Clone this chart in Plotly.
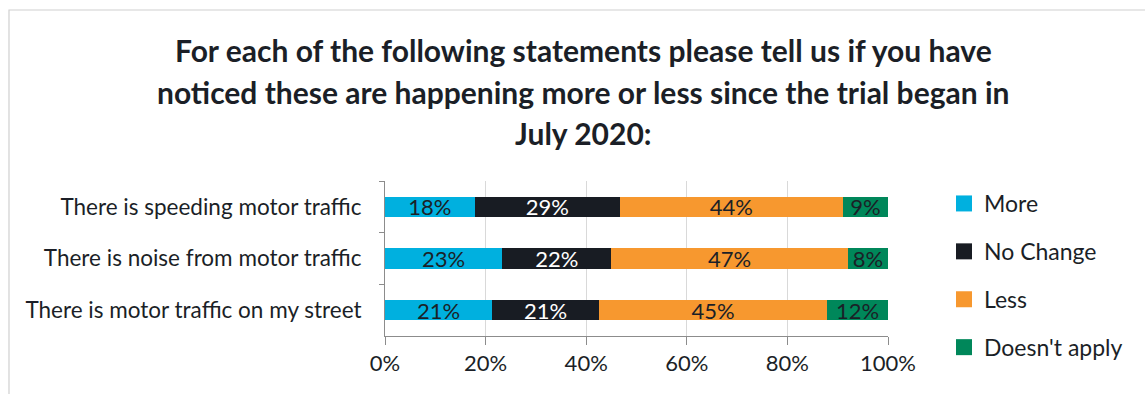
import plotly.graph_objects as go

# Survey statements (top to bottom) and response shares in percent
statements = [
    "There is speeding motor traffic",
    "There is noise from motor traffic",
    "There is motor traffic on my street",
]
more = [17.8, 23.3, 21.3]
no_change = [28.9, 21.7, 21.2]
less = [44.3, 47.0, 45.4]
doesnt_apply = [9.0, 8.0, 12.1]

series_names = ["More", "No Change", "Less", "Doesn't apply"]
series_values = [more, no_change, less, doesnt_apply]
series_colors = ["#00B0DF", "#181C23", "#F7982F", "#00875A"]
label_colors = ["#1b1f27", "#ffffff", "#1b1f27", "#1b1f27"]

x_ticks = [0, 20, 40, 60, 80, 100]
x_tick_labels = ["0%", "20%", "40%", "60%", "80%", "100%"]

title_lines = [
    "For each of the following statements please tell us if you have",
    "noticed these are happening more or less since the trial began in",
    "July 2020:",
]

FONT = "Lato"
TEXT = "#1b1f27"

fig = go.Figure()
for name, vals, col, lcol in zip(series_names, series_values, series_colors, label_colors):
    fig.add_trace(go.Bar(
        y=statements,
        x=vals,
        name=name,
        orientation="h",
        marker=dict(color=col, line=dict(width=0)),
        texttemplate="%{x:.0f}%",
        textposition="inside",
        insidetextanchor="middle",
        textangle=0,
        constraintext="none",
        textfont=dict(family=FONT, size=22, color=lcol),
        legendgroup=name,
        showlegend=False,
    ))
    # Legend entry with a larger square swatch
    fig.add_trace(go.Scatter(
        x=[None], y=[None],
        mode="markers",
        name=name,
        marker=dict(symbol="square", size=16, color=col),
        legendgroup=name,
        showlegend=True,
        hoverinfo="skip",
    ))

# Plot-area placement in pixels
L, R, T, B = 385, 257, 181, 58
W = 1145 - L - R
H = 394 - T - B
def px_x(px):
    return (px - L) / W
def px_y(py):
    return (394 - B - py) / H

# Frame around the chart (top and left edges)
fig.add_shape(type="path", xref="paper", yref="paper",
              path=f"M {px_x(9)} {px_y(400)} L {px_x(9)} {px_y(10)} L {px_x(1150)} {px_y(10)}",
              line=dict(color="#d0d0d0", width=1.2))

# Title, one annotation per line
for line, cy in zip(title_lines, [50, 92, 133]):
    fig.add_annotation(
        xref="paper", yref="paper",
        x=px_x(583), y=px_y(cy), xanchor="center", yanchor="middle",
        text=f"<b>{line}</b>",
        showarrow=False,
        font=dict(family=FONT, size=30, color=TEXT),
    )

fig.update_layout(
    width=1145, height=394,
    margin=dict(l=L, r=R, t=T, b=B),
    barmode="stack",
    bargap=0.61,
    plot_bgcolor="white",
    paper_bgcolor="white",
    font=dict(family=FONT, color=TEXT),
    legend=dict(
        x=px_x(944), y=px_y(182), xanchor="left", yanchor="top",
        font=dict(family=FONT, size=23, color=TEXT),
        tracegroupgap=15,
        itemwidth=30,
        maxheight=400,
        bgcolor="rgba(0,0,0,0)",
    ),
    showlegend=True,
)

fig.update_xaxes(
    range=[0, 100],
    tickvals=x_ticks, ticktext=x_tick_labels,
    showgrid=True, gridcolor="#d9d9d9", gridwidth=1,
    showline=True, linecolor="#8c8c8c", linewidth=1,
    ticks="outside", ticklen=8, tickcolor="#8c8c8c",
    tickfont=dict(family=FONT, size=22, color=TEXT),
    zeroline=False, fixedrange=True,
)
fig.update_yaxes(
    categoryorder="array", categoryarray=statements,
    autorange="reversed",
    showline=True, linecolor="#8c8c8c", linewidth=1,
    ticks="outside", ticklen=5, tickcolor="#8c8c8c", tickson="boundaries",
    ticklabelstandoff=18,
    tickfont=dict(family=FONT, size=22.5, color=TEXT),
    showgrid=False, zeroline=False,
)

fig.write_html("out.html")
